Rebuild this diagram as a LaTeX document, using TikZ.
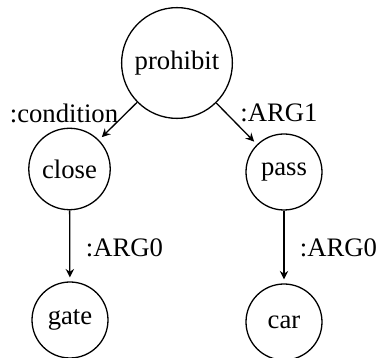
\documentclass[tikz,border=0pt]{standalone}
\usepackage{fontspec}
\setmainfont{Liberation Serif}
\usetikzlibrary{arrows.meta}
\begin{document}
\begin{tikzpicture}[x=0.5pt,y=-0.5pt,
  concept/.style={draw,circle,line width=0.65pt,inner sep=4.5pt,minimum size=38pt,
    font=\fontsize{13.35}{16}\selectfont},
  role/.style={font=\fontsize{13.35}{16}\selectfont,inner sep=0pt},
  rel/.style={line width=0.65pt,shorten >=2pt,
    -{Stealth[length=4.2pt,width=4.2pt,inset=1.4pt]}}]
\useasboundingbox (0,0) rectangle (376,358);
% concept nodes
\node[concept] (prohibit) at (177,63) {prohibit};
\node[concept] (close) at (69.5,169) {close};
\node[concept] (pass) at (284,172) {pass};
\node[concept] (gate) at (70,320) {gate};
\node[concept] (car) at (284,322) {car};
% relations
\draw[rel] (prohibit) -- (close);
\draw[rel] (prohibit) -- (pass);
\draw[rel] (close) -- (gate);
\draw[rel] (pass) -- (car);
% relation labels
\node[role] (lcond) at (64,113) {:condition};
\node[role] (larg1) at (279,113) {:ARG1};
\node[role] (larg0a) at (124.5,248) {:ARG0};
\node[role] (larg0b) at (338.5,248) {:ARG0};
\end{tikzpicture}
\end{document}
